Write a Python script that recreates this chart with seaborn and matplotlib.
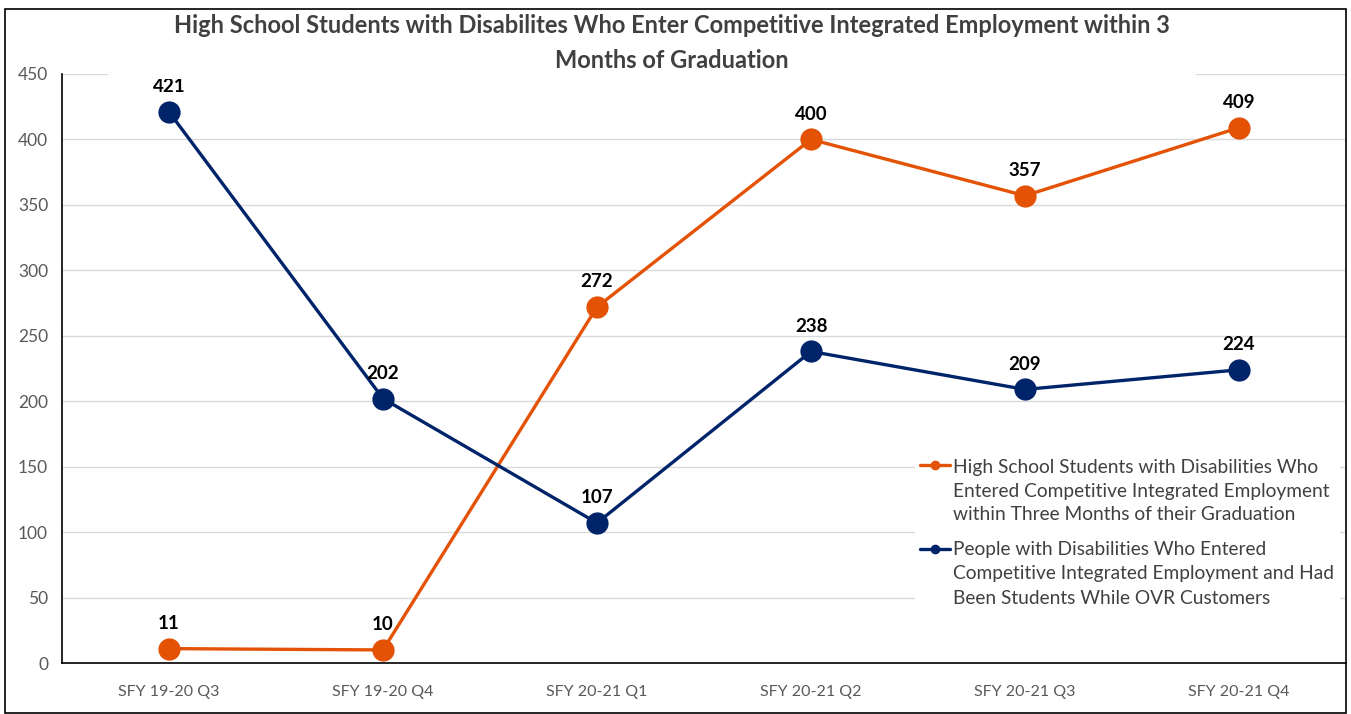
import matplotlib
matplotlib.use("Agg")
import matplotlib.pyplot as plt
import seaborn as sns
import pandas as pd
from matplotlib.patches import Rectangle
from matplotlib.lines import Line2D

categories = ["SFY 19-20 Q3", "SFY 19-20 Q4", "SFY 20-21 Q1", "SFY 20-21 Q2", "SFY 20-21 Q3", "SFY 20-21 Q4"]
hs_students = [11, 10, 272, 400, 357, 409]
ovr_students = [421, 202, 107, 238, 209, 224]
series_names = [
    "High School Students with Disabilities Who\nEntered Competitive Integrated Employment\nwithin Three Months of their Graduation",
    "People with Disabilities Who Entered\nCompetitive Integrated Employment and Had\nBeen Students While OVR Customers",
]
colors = ["#E35205", "#002469"]
title = "High School Students with Disabilites Who Enter Competitive Integrated Employment within 3\nMonths of Graduation"

sns.set_theme(style="white")
plt.rcParams['font.family'] = ['Lato', 'DejaVu Sans']

rows = []
for i, c in enumerate(categories):
    rows.append({"idx": i, "cat": c, "value": hs_students[i], "series": series_names[0]})
    rows.append({"idx": i, "cat": c, "value": ovr_students[i], "series": series_names[1]})
df = pd.DataFrame(rows)

fig = plt.figure(figsize=(13.51, 7.14), dpi=100)
ax = fig.add_axes([0.0459, 0.0714, 0.9504, 0.825])

sns.lineplot(data=df, x="idx", y="value", hue="series", hue_order=series_names,
             palette=colors, marker="o", markersize=16, linewidth=2.4,
             markeredgewidth=0, ax=ax, legend=False)

for vals in (hs_students, ovr_students):
    for i, v in enumerate(vals):
        ax.annotate(str(v), (i, v), xytext=(0, 18), textcoords="offset points",
                    ha="center", va="center", fontsize=13.5, fontweight="bold", color="black")

ax.set_xlim(-0.5, len(categories) - 0.5)
ax.set_ylim(0, 450)
ax.set_yticks(range(0, 451, 50))
ax.set_xticks(range(len(categories)))
ax.set_xticklabels(categories)
ax.set_xticks([i + 0.5 for i in range(-1, len(categories))], minor=True)
ax.tick_params(axis="x", which="major", length=0, pad=16, labelsize=11.5, labelcolor="#595959")
ax.tick_params(axis="x", which="minor", length=6, width=1, color="black", direction="out")
ax.tick_params(axis="y", length=6, width=1, color="black", direction="out", labelsize=12.5, labelcolor="#595959", pad=4)
ax.yaxis.grid(True, color="#D9D9D9", linewidth=1)
ax.set_axisbelow(True)
for s in ["top", "right"]:
    ax.spines[s].set_visible(False)
for s in ["left", "bottom"]:
    ax.spines[s].set_color("black")
    ax.spines[s].set_linewidth(1.2)
ax.set_xlabel("")
ax.set_ylabel("")

# title with white background
fig.patches.append(Rectangle((0.08, 0.89), 0.805, 0.095, transform=fig.transFigure,
                             facecolor="white", edgecolor="none", zorder=5))
fig.text(0.497, 0.94, title, ha="center", va="center", fontsize=17, fontweight="bold",
         color="#404040", linespacing=1.6, zorder=6)

# legend (manual layout to keep handle on first line of each entry)
fig.patches.append(Rectangle((0.677, 0.143), 0.315, 0.23, transform=fig.transFigure,
                             facecolor="white", edgecolor="none", zorder=5))
handle_y = [1 - 465 / 714, 1 - 549 / 714]
text_y = [1 - 491 / 714, 1 - 574 / 714]
for name, col, hy, ty in zip(series_names, colors, handle_y, text_y):
    fig.add_artist(Line2D([0.681, 0.703], [hy, hy], color=col, linewidth=2.4,
                          transform=fig.transFigure, zorder=6))
    fig.add_artist(Line2D([0.692], [hy], color=col, marker="o", markersize=7,
                          markeredgewidth=0, linestyle="none", transform=fig.transFigure, zorder=7))
    fig.text(0.7054, ty, name, ha="left", va="center", fontsize=13.8, color="#404040",
             linespacing=1.5, zorder=7)

fig.patches.append(Rectangle((0.004, 0.002), 0.992, 0.985, transform=fig.transFigure,
                             facecolor="none", edgecolor="black", linewidth=1.2, zorder=10))

fig.savefig("out.png", dpi=100, facecolor="white")
